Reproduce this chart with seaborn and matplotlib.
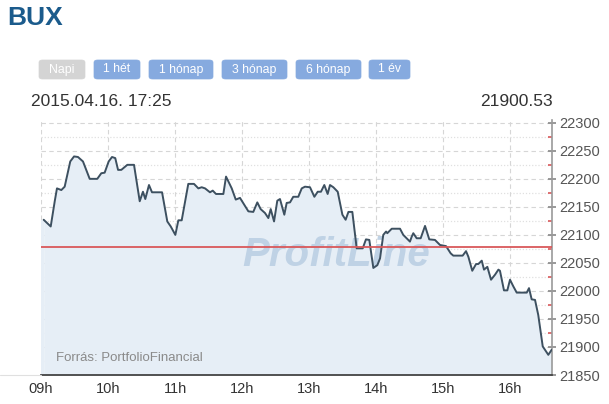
import matplotlib
matplotlib.use("Agg")
import matplotlib.pyplot as plt
import matplotlib.ticker as mticker
from matplotlib.patches import FancyBboxPatch
import seaborn as sns
import pandas as pd

# ---- data (minutes after 09:00, BUX index value) ----
minutes = [2.4, 8.7, 12.3, 14.3, 18.2, 21.2, 26.2, 29.6, 33.1, 37.6, 43.6, 50.4, 54.0, 57.0,
           60.6, 63.6, 66.5, 69.0, 71.9, 77.3, 83.3, 88.4, 91.3, 93.4, 96.7, 99.4, 108.4,
           113.1, 116.2, 120.3, 123.0, 126.0, 131.9, 137.0, 140.9, 143.9, 146.9, 151.3,
           153.8, 156.7, 163.3, 165.7, 170.8, 174.4, 178.2, 185.7, 190.1, 193.7, 196.7,
           200.6, 203.6, 205.7, 208.7, 211.6, 214.0, 217.9, 220.0, 223.0, 225.9, 230.4,
           233.5, 236.4, 240.9, 244.8, 247.8, 250.7, 253.7, 256.7, 258.8, 261.8, 265.7,
           269.9, 272.8, 275.3, 278.8, 282.7, 288.1, 291.0, 294.0, 297.6, 301.2, 303.6,
           306.5, 309.0, 310.1, 314.1, 321.5, 324.4, 330.4, 332.0, 333.4, 336.4, 340.0,
           343.9, 347.7, 352.8, 357.3, 362.7, 366.9, 369.2, 377.6, 380.6, 382.7, 386.2,
           389.6, 391.6, 394.7, 396.7, 399.7, 403.0, 406.6, 409.6, 411.0, 414.6, 417.6,
           420.0, 423.0, 426.0, 435.0, 437.0, 439.4, 442.4, 445.3, 449.3, 454.3, 457.3]
values = [22127, 22115, 22160, 22183, 22180, 22186, 22231, 22240, 22239, 22231, 22200,
          22200, 22210, 22211, 22231, 22239, 22237, 22216, 22216, 22225, 22225, 22160,
          22177, 22164, 22189, 22176, 22176, 22124, 22115, 22100, 22126, 22126, 22191,
          22191, 22183, 22185, 22183, 22176, 22179, 22173, 22173, 22204, 22183, 22163,
          22166, 22142, 22141, 22158, 22146, 22139, 22130, 22146, 22124, 22161, 22164,
          22136, 22157, 22158, 22168, 22168, 22183, 22186, 22185, 22168, 22177, 22177,
          22189, 22173, 22189, 22185, 22177, 22136, 22127, 22141, 22141, 22076, 22076,
          22092, 22091, 22041, 22046, 22058, 22100, 22106, 22103, 22111, 22111, 22100,
          22088, 22097, 22103, 22094, 22094, 22116, 22092, 22091, 22082, 22080, 22067,
          22063, 22063, 22071, 22061, 22036, 22048, 22048, 22054, 22038, 22043, 22020,
          22029, 22038, 22036, 22001, 22001, 22020, 22008, 21997, 21997, 22005, 21985,
          21984, 21957, 21901, 21886, 21895]
prev_close = 22079
hour_ticks = [0, 60, 120, 180, 240, 300, 360, 420]
hour_labels = ["09h", "10h", "11h", "12h", "13h", "14h", "15h", "16h"]
y_ticks = [21850, 21900, 21950, 22000, 22050, 22100, 22150, 22200, 22250, 22300]
buttons = ["Napi", "1 hét", "1 hónap", "3 hónap", "6 hónap", "1 év"]
title = "BUX"
date_text = "2015.04.16. 17:25"
last_text = "21900.53"
source_text = "Forrás: PortfolioFinancial"
watermark = "ProfitLine"

df = pd.DataFrame({"t": minutes, "v": values})

sns.set_theme(style="white")
plt.rcParams["font.family"] = ["Liberation Sans", "DejaVu Sans"]

W, H = 609, 404
fig = plt.figure(figsize=(W / 100, H / 100), dpi=100)
fig.patch.set_facecolor("white")

def fx(px):
    return px / W

def fy(py):
    return 1 - py / H

ax = fig.add_axes([fx(41), fy(375), fx(552) - fx(41), fy(120) - fy(375)])
ax.set_facecolor("white")
ymin, ymax = 21850, 22305
ax.set_xlim(0, 457.6)
ax.set_ylim(ymin, ymax)

# grid
for yv in range(21850, 22301, 50):
    ax.axhline(yv, color="#d6d6d6", lw=0.8, ls=(0, (4, 3)), zorder=0)
for yv in range(21875, 22301, 50):
    ax.axhline(yv, color="#e0e0e0", lw=0.9, ls=(0, (1, 1.5)), zorder=0)
for xv in hour_ticks:
    ax.axvline(xv, color="#d6d6d6", lw=0.8, ls=(0, (4, 3)), zorder=0)

# area + line
ax.fill_between(df["t"], df["v"], ymin, color="#e6eef6", zorder=1, lw=0)
ax.axvspan(0, df["t"].iloc[0], color="#e6eef6", zorder=0.5, lw=0,
           ymax=(df["v"].iloc[0] - ymin) / (ymax - ymin))
sns.lineplot(data=df, x="t", y="v", ax=ax, color="#3d5060", lw=1.4, zorder=3,
             estimator=None, sort=False)
ax.axhline(prev_close, color="#d9585a", lw=1.3, zorder=4)

# watermark
ax.text(0.578, 0.47, watermark, transform=ax.transAxes, fontsize=29,
        fontweight="bold", fontstyle="italic", color="#bfd2e5",
        ha="center", va="center", zorder=2)
ax.text(0.03, 0.065, source_text, transform=ax.transAxes, fontsize=9.5,
        color="#8a8a8a", ha="left", va="center", zorder=5)

ax.set_xlabel("")
ax.set_ylabel("")

# axes styling
for s in ["top", "left"]:
    ax.spines[s].set_visible(False)
ax.spines["right"].set_color("#9a9a9a")
ax.spines["right"].set_linewidth(1.2)
ax.spines["bottom"].set_color("#444444")
ax.spines["bottom"].set_linewidth(1.3)

ax.yaxis.tick_right()
ax.set_yticks(y_ticks)
ax.set_yticklabels([str(v) for v in y_ticks])
ax.yaxis.set_minor_locator(mticker.FixedLocator(list(range(21875, 22301, 50))))
ax.tick_params(axis="y", which="major", direction="inout", length=6, width=1.2,
               color="#888888", labelsize=10.5, labelcolor="#555555", pad=2)
ax.tick_params(axis="y", which="minor", direction="in", length=3, width=1.2,
               color="#d9585a")
ax.set_xticks(hour_ticks)
ax.set_xticklabels(hour_labels)
ax.tick_params(axis="x", which="major", direction="inout", length=6, width=1.2,
               color="#444444", labelsize=10.5, labelcolor="#333333", pad=2)
ax.tick_params(left=False)

# thin baseline extending left
fig.add_artist(plt.Line2D([0, fx(41)], [fy(375), fy(375)], color="#e0e0e0", lw=0.8))

# header
fig.text(fx(7), fy(18), title, fontsize=19, fontweight="bold", color="#1b5b8c",
         ha="left", va="center")

btn_x = [(39, 85), (94, 140), (149, 213), (222, 287), (296, 361), (369, 410)]
for i, (lab, (x0, x1)) in enumerate(zip(buttons, btn_x)):
    col = "#d4d4d4" if i == 0 else "#86aadf"
    patch = FancyBboxPatch((fx(x0), fy(79)), fx(x1) - fx(x0), fy(60) - fy(79),
                           boxstyle="round,pad=0,rounding_size=0.006",
                           transform=fig.transFigure, facecolor=col,
                           edgecolor=col, lw=0.5)
    fig.add_artist(patch)
    fig.text(fx((x0 + x1) / 2), fy(69.5), lab, fontsize=8.8, color="white",
             ha="center", va="center")

fig.text(fx(31), fy(101), date_text, fontsize=12.5, color="#333333",
         ha="left", va="center")
fig.text(fx(553), fy(101), last_text, fontsize=12.5, color="#333333",
         ha="right", va="center")

fig.savefig("out.png", dpi=100, facecolor="white")
